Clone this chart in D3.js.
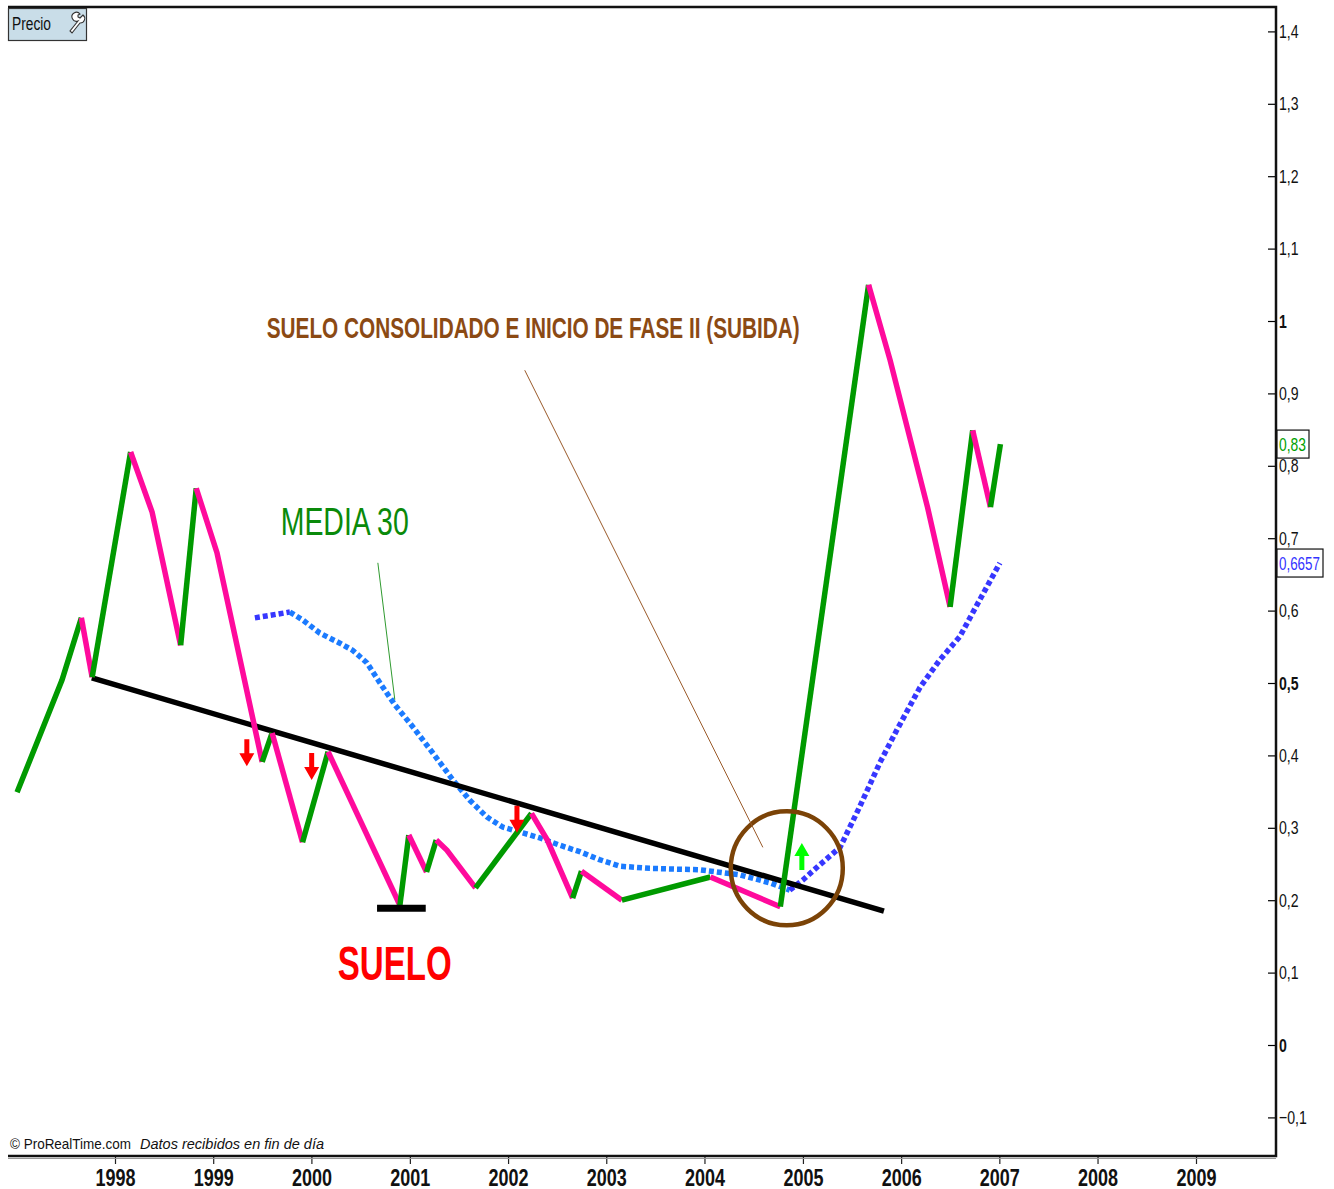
<!DOCTYPE html>
<html><head><meta charset="utf-8">
<script src="https://cdn.jsdelivr.net/npm/d3@7/dist/d3.min.js"></script>
<style>
html,body{margin:0;padding:0;background:#fff;}
svg{display:block;}
text{font-family:"Liberation Sans Narrow","Arial Narrow","Liberation Sans",sans-serif;}
</style></head>
<body>
<script>
// ---------- DATA ----------
const priceDates = ["1997-01-02","1997-06-18","1997-08-29","1997-10-08","1998-02-28","1998-05-19","1998-09-02","1998-10-30","1999-01-15","1999-07-02","1999-08-08","1999-11-29","2000-03-03","2000-11-25","2000-12-28","2001-03-04","2001-04-09","2001-05-19","2001-09-02","2002-03-29","2002-05-27","2002-08-29","2002-10-01","2003-02-28","2004-01-23","2004-10-09","2005-09-02","2005-11-21","2006-04-09","2006-07-02","2006-09-24","2006-11-29","2007-01-05"];
const priceValues = [0.349,0.504,0.590,0.508,0.819,0.736,0.552,0.769,0.680,0.391,0.431,0.280,0.405,0.193,0.290,0.239,0.283,0.269,0.217,0.320,0.283,0.203,0.240,0.200,0.232,0.191,1.050,0.946,0.743,0.605,0.849,0.743,0.830];

const maDates = ["1999-06-05","1999-10-13","1999-11-30","2000-02-01","2000-04-16","2000-06-03","2000-07-25","2000-09-12","2000-11-06","2001-01-13","2001-03-28","2001-06-10","2001-08-12","2001-10-14","2001-12-12","2002-02-25","2002-04-29","2002-07-12","2002-09-24","2002-12-07","2003-02-20","2003-06-11","2003-12-14","2004-05-12","2004-08-31","2004-11-13","2005-01-01","2005-03-05","2005-05-19","2005-07-31","2005-10-14","2005-12-16","2006-03-12","2006-05-25","2006-08-07","2006-09-24","2007-01-03"];
const maValues = [0.590,0.598,0.587,0.569,0.555,0.545,0.528,0.500,0.470,0.439,0.403,0.366,0.338,0.315,0.301,0.293,0.286,0.276,0.267,0.256,0.247,0.244,0.242,0.235,0.224,0.214,0.228,0.249,0.273,0.329,0.390,0.435,0.494,0.532,0.564,0.597,0.6657];

const trendDates = ["1997-10-07","2005-10-29"];
const trendValues = [0.507,0.185];
const floorDates = ["2000-09-01","2001-03-01"];
const floorValue = 0.189;

const downArrowDates = ["1999-05-06","2000-01-02","2002-02-03"];
const downArrowValues = [0.385,0.366,0.293];
const upArrowDates = ["2004-12-28"];
const upArrowValues = [0.279];

const circleDate = "2004-11-02", circleValue = 0.244;

const yTicks = [-0.1,0,0.1,0.2,0.3,0.4,0.5,0.6,0.7,0.8,0.9,1,1.1,1.2,1.3,1.4];
const boldTicks = [0,0.5,1];
const yearTicks = [1998,1999,2000,2001,2002,2003,2004,2005,2006,2007,2008,2009];

const lastPrice = 0.83, lastMA = 0.6657;

// ---------- SETUP ----------
const W = 1334, H = 1189;
const parse = d3.timeParse("%Y-%m-%d");
const svg = d3.select("body").append("svg").attr("width", W).attr("height", H);

const x = d3.scaleTime().domain([new Date(1998,0,1), new Date(2009,0,1)]).range([115,1196]);
const y = d3.scaleLinear().domain([-0.1,1.4]).range([1117.4,31.4]);
const frame = {l:8, r:1276, t:7, b:1156};
const fmt = v => d3.format(".10~g")(v).replace(".", ",");

// ---------- AXES ----------
const yAxis = d3.axisRight(y).tickValues(yTicks).tickSize(0).tickPadding(3).tickFormat(fmt);
const gy = svg.append("g").attr("transform", `translate(${frame.r},0)`).call(yAxis);
gy.select(".domain").remove();
gy.selectAll(".tick line").remove();
gy.selectAll(".tick").append("line").attr("x1",-8).attr("x2",0).attr("stroke","#000").attr("stroke-width",1.2);
gy.selectAll(".tick text")
  .attr("fill","#111").attr("font-size",16)
  .attr("font-weight", d => boldTicks.includes(d) ? "bold" : "normal")
  .attr("textLength", function(){ return this.getComputedTextLength()*0.88; })
  .attr("lengthAdjust","spacingAndGlyphs")
  .attr("transform","scale(1,1.2)");

const xAxis = d3.axisBottom(x).tickValues(yearTicks.map(t => new Date(t,0,1))).tickSize(0).tickPadding(0).tickFormat(d3.timeFormat("%Y"));
const gx = svg.append("g").attr("transform", `translate(0,${frame.b})`).call(xAxis);
gx.select(".domain").remove();
gx.selectAll(".tick line").remove();
gx.selectAll(".tick").append("line").attr("y1",1).attr("y2",8).attr("stroke","#222").attr("stroke-width",1.2);
gx.selectAll(".tick text")
  .attr("fill","#111").attr("font-size",18).attr("font-weight","bold")
  .attr("y",0).attr("dy",0)
  .attr("transform","translate(0,30) scale(1,1.3)");

// frame
svg.append("path")
  .attr("d", `M${frame.l},${frame.t}H${frame.r}V${frame.b}H${frame.l}`)
  .attr("fill","none").attr("stroke","#111").attr("stroke-width",2.5);
svg.append("line").attr("x1",frame.l).attr("x2",frame.r).attr("y1",frame.b+2.5).attr("y2",frame.b+2.5)
  .attr("stroke","#999").attr("stroke-width",1);

// ---------- helpers ----------
function runs(dates, values, upC, downC){
  const pts = dates.map((d,i)=>[x(parse(d)), y(values[i])]);
  const out = [];
  for(let i=1;i<pts.length;i++){
    const c = values[i] >= values[i-1] ? upC : downC;
    if(out.length && out[out.length-1].c === c) out[out.length-1].p.push(pts[i]);
    else out.push({c, p:[pts[i-1], pts[i]]});
  }
  return out;
}
const line = d3.line();

// ---------- MA 30 ----------
const maRuns = runs(maDates, maValues, "#3737ff", "#1b7bff");
svg.append("g").selectAll("path").data(maRuns).join("path")
  .attr("d", d => line(d.p)).attr("fill","none").attr("stroke", d=>d.c)
  .attr("stroke-width",5.5).attr("stroke-dasharray","5,3");

// ---------- trend line ----------
svg.append("path")
  .attr("d", line(trendDates.map((d,i)=>[x(parse(d)), y(trendValues[i])])))
  .attr("stroke","#000").attr("stroke-width",5.5).attr("fill","none");

// ---------- price ----------
const pRuns = runs(priceDates, priceValues, "#009a00", "#ff0a9c");
svg.append("g").selectAll("path").data(pRuns).join("path")
  .attr("d", d => line(d.p)).attr("fill","none").attr("stroke", d=>d.c)
  .attr("stroke-width",5.5).attr("stroke-linejoin","miter").attr("stroke-miterlimit",3);

// floor bar
svg.append("line")
  .attr("x1", x(parse(floorDates[0]))).attr("x2", x(parse(floorDates[1])))
  .attr("y1", y(floorValue)).attr("y2", y(floorValue))
  .attr("stroke","#000").attr("stroke-width",7);

// arrows
const downPath = "M0,0L-7.5,-13H-2.5V-27H2.5V-13H7.5Z";
svg.append("g").selectAll("path").data(downArrowDates).join("path")
  .attr("transform",(d,i)=>`translate(${x(parse(d))},${y(downArrowValues[i])})`)
  .attr("d", downPath).attr("fill","#ff0000");
svg.append("g").selectAll("path").data(upArrowDates).join("path")
  .attr("transform",(d,i)=>`translate(${x(parse(d))},${y(upArrowValues[i])}) scale(1,-1)`)
  .attr("d", downPath).attr("fill","#00ff00");

// circle
svg.append("ellipse")
  .attr("cx", x(parse(circleDate))).attr("cy", y(circleValue))
  .attr("rx",56).attr("ry",57).attr("fill","none").attr("stroke","#7b4307").attr("stroke-width",4.5);

// ---------- annotations ----------
svg.append("line")
  .attr("x1", x(parse("2000-09-04"))).attr("y1", y(0.666))
  .attr("x2", x(parse("2000-11-06"))).attr("y2", y(0.477))
  .attr("stroke","#2f9a2f").attr("stroke-width",1);
svg.append("line")
  .attr("x1", x(parse("2002-03-04"))).attr("y1", y(0.932))
  .attr("x2", x(parse("2004-08-05"))).attr("y2", y(0.273))
  .attr("stroke","#9a5a2a").attr("stroke-width",1);

function label(txt, date, value, opts){
  return svg.append("text")
    .attr("x", x(parse(date))).attr("y", y(value))
    .attr("fill", opts.fill).attr("font-size", opts.size)
    .attr("font-weight", opts.weight || "normal")
    .attr("text-anchor", opts.anchor || "start")
    .attr("textLength", opts.len).attr("lengthAdjust","spacingAndGlyphs")
    .text(txt);
}
label("SUELO CONSOLIDADO E INICIO DE FASE II (SUBIDA)", "1999-07-19", 0.977, {fill:"#8b4a14", size:30, weight:"bold", len:533});
label("MEDIA 30", "1999-09-09", 0.704, {fill:"#0a8a0a", size:39, len:128});
label("SUELO", "2000-11-06", 0.090, {fill:"#ff0000", size:48, weight:"bold", anchor:"middle", len:114});

// ---------- last value boxes ----------
function valueBox(v, txt, color, w){
  const g = svg.append("g").attr("transform", `translate(${frame.r+1},${y(v)})`);
  g.append("rect").attr("x",0).attr("y",-14).attr("width",w).attr("height",28)
    .attr("fill","#fff").attr("stroke","#111").attr("stroke-width",1.2);
  g.append("text").attr("x",2).attr("y",6).attr("fill",color).attr("font-size",16)
    .attr("textLength", w-5).attr("lengthAdjust","spacingAndGlyphs")
    .attr("transform","scale(1,1.15)").text(txt);
}
valueBox(lastPrice, fmt(lastPrice), "#00a000", 32);
valueBox(lastMA, fmt(lastMA), "#3333ff", 46);

// ---------- title box ----------
const tb = svg.append("g");
tb.append("rect").attr("x",8.5).attr("y",8.5).attr("width",78).attr("height",32)
  .attr("fill","#c9dde8").attr("stroke","#333").attr("stroke-width",1.2);
tb.append("text").attr("x",12).attr("y",30).attr("font-size",16).attr("fill","#111")
  .attr("textLength",39).attr("lengthAdjust","spacingAndGlyphs")
  .attr("transform","translate(0,-5) scale(1,1.17)").text("Precio");
tb.append("path")
  .attr("d","M80,14 a4.5,4.5 0 1 0 -2,7 l-8,10 l2,2 l8,-10 a4.5,4.5 0 0 0 3,-8 l-3,3 l-2,-1 l0,-2 z")
  .attr("fill","#fff").attr("stroke","#333").attr("stroke-width",1.1);

// ---------- footer ----------
svg.append("text").attr("x",10).attr("y",1149).attr("font-size",15).attr("fill","#111")
  .attr("textLength",121).attr("lengthAdjust","spacingAndGlyphs").text("© ProRealTime.com");
svg.append("text").attr("x",140).attr("y",1149).attr("font-size",15).attr("fill","#111")
  .attr("font-style","italic")
  .attr("textLength",184).attr("lengthAdjust","spacingAndGlyphs").text("Datos recibidos en fin de día");
</script>
</body></html>
